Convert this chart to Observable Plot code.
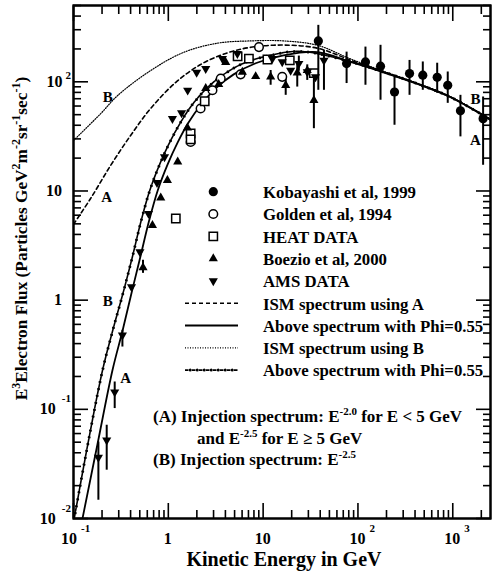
<!DOCTYPE html>
<html><head><meta charset="utf-8">
<script src="https://cdn.jsdelivr.net/npm/d3@7"></script>
<script src="https://cdn.jsdelivr.net/npm/@observablehq/plot@0.6"></script>
<style>body{margin:0;background:#fff} #chart{position:relative;width:498px;height:576px}</style>
</head><body><div id="chart"></div>
<script>
// ---------- data ----------
// Model curves (energy GeV, E^3 flux)
const ismAE = [0.1, 0.152, 0.247, 0.402, 0.653, 1.2, 2.19, 4.03, 7.4, 16.4, 37.5, 83.6, 186, 425, 946, 2500];
const ismAF = [4.95, 8.57, 17.2, 32.4, 57.2, 98.9, 144, 182, 207, 217, 203, 158, 123, 96, 72.6, 45.2];
const modAE = [0.1244, 0.179, 0.2576, 0.330, 0.411, 0.512, 0.621, 0.773, 0.986, 1.256, 1.64, 2.19, 3.16, 4.89, 8.34, 16.4, 37.5, 83.6, 186, 425, 946, 2500];
const modAF = [0.01, 0.0479, 0.228, 0.53, 1.18, 2.58, 5.17, 10.1, 17.6, 27.9, 42.6, 61, 87.1, 117, 148, 175, 187, 152, 122, 95.5, 72.3, 44.8];
const ismBE = [0.1, 0.194, 0.293, 0.653, 1.45, 3.32, 7.4, 16.4, 37.5, 83.6, 186, 425, 946, 2500];
const ismBF = [29, 51.2, 75, 127, 186, 226, 237, 237, 216, 162, 125, 97, 73, 45.6];
const modBE = [0.102, 0.1416, 0.2025, 0.2596, 0.339, 0.422, 0.512, 0.637, 0.812, 1.035, 1.35, 1.77, 2.54, 3.84, 6.23, 12.0, 24.8, 83.6, 186, 425, 946, 2500];
const modBF = [0.0101, 0.0479, 0.228, 0.53, 1.23, 2.58, 5.17, 10.1, 17.6, 27.9, 42.6, 61, 87.1, 117, 148, 175, 190, 153, 123, 96, 72.6, 45];

// Measurements
const kobE  = [38.2, 75.9, 120, 173, 243, 350, 483, 685, 885, 1205, 2089];
const kobF  = [237, 147, 152, 139, 80.7, 119, 115, 110, 93, 54.2, 46];
const kobLo = [83.6, 96.4, 93, 67.8, 40, 75.2, 83.6, 78.5, 63.5, 31.3, 17.2];
const kobHi = [329, 187, 208, 216, 111, 157, 152, 148, 123, 75.2, 72.6];

const golE = [1.72, 2.19, 2.92, 3.57, 5.79, 9.04, 15.9];
const golF = [28.1, 56.9, 83.6, 107, 117, 208, 111];

const heatE = [1.2, 1.72, 1.72, 2.42, 5.38, 7.08, 11.1, 19.1, 34.3];
const heatF = [5.6, 33.6, 29.7, 66.4, 171, 163, 160, 157, 120];

const boeE  = [0.541, 0.680, 0.832, 0.978, 1.256, 1.59, 2.48, 3.4, 4.03, 6.04, 8.34, 12.0, 17.3, 22.9, 29.2, 34.3];
const boeF  = [1.99, 4.85, 8.67, 12.5, 18.5, 37.9, 87, 95, 151, 123, 112, 111, 93, 121, 127, 67.8];
const boeLo = [1.76, null, null, null, null, null, null, null, null, null, null, 93, 75.2, 89.5, null, 37.2];
const boeHi = [2.32, null, null, null, null, null, null, null, null, null, null, 127, 111, 148, null, 111];

const amsE  = [0.183, 0.224, 0.272, 0.328, 0.409, 0.502, 0.618, 0.760, 0.912, 1.105, 1.38, 1.60, 1.99, 2.48, 3.72, 5.35, 12.5, 15.9, 19.5, 23.8, 29.2, 35.7, 43.8];
const amsF  = [0.0362, 0.0521, 0.144, 0.477, 1.32, 2.76, 6.21, 11.9, 20.5, 46, 51.8, 83.6, 122, 132, 163, 181, 163, 152, 127, 147, 123, 111, 157];
const amsLo = [0.0147, 0.0277, 0.1016, 0.372, null, null, null, null, null, null, null, null, null, null, null, null, null, null, null, 125, 103, null, 83.6];
const amsHi = [0.0502, 0.0715, 0.178, 0.530, null, null, null, null, null, null, null, null, null, null, null, null, null, null, null, 172, 143, null, 194];

// Curve labels
const curveLabelText = ["B", "A", "B", "A", "B", "A"];
const curveLabelE = [0.230, 0.224, 0.230, 0.356, 1734, 1734];
const curveLabelF = [72, 8.75, 0.977, 0.193, 69, 29.1];

// Legend
const legendSymbols = ["Kobayashi et al, 1999", "Golden et al, 1994", "HEAT DATA", "Boezio et al, 2000", "AMS DATA"];
const legendLines = ["ISM spectrum using A", "Above spectrum with Phi=0.55", "ISM spectrum using B", "Above spectrum with Phi=0.55"];

// Axis ticks
const xMajor = [0.1, 1, 10, 100, 1000];
const xLabelBase = ["10", "1", "10", "10", "10"];
const xLabelSup = ["-1", "", "", "2", "3"];
const yMajor = [0.01, 0.1, 1, 10, 100];
const yLabelBase = ["10", "10", "1", "10", "10"];
const yLabelSup = ["-2", "-1", "", "", "2"];

// ---------- build ----------
const FONT = "'Liberation Serif', 'Times New Roman', serif";
const X_DOMAIN = [0.1, 2500], Y_DOMAIN = [0.01, 500];
const pts = (E, F) => E.map((e, i) => ({E: e, F: F[i]}));
const bars = (E, F, lo, hi) => E.map((e, i) => ({E: e, F: F[i], lo: lo[i], hi: hi[i]})).filter(d => d.lo != null);

const ismA = pts(ismAE, ismAF), modA = pts(modAE, modAF), ismB = pts(ismBE, ismBF), modB = pts(modBE, modBF);
const kob = pts(kobE, kobF), gol = pts(golE, golF), heat = pts(heatE, heatF), boe = pts(boeE, boeF), ams = pts(amsE, amsF);
const errs = [...bars(kobE, kobF, kobLo, kobHi), ...bars(boeE, boeF, boeLo, boeHi), ...bars(amsE, amsF, amsLo, amsHi)];
const labels = curveLabelText.map((t, i) => ({t, E: curveLabelE[i], F: curveLabelF[i]}));

function minors(lo, hi) {
  const out = [];
  for (let d = lo; d < hi * 0.999; d *= 10) for (let k = 2; k <= 9; k++) if (k * d <= hi) out.push(k * d);
  return out;
}
const xMinor = minors(...X_DOMAIN), yMinor = minors(...Y_DOMAIN);

const frameDims = {width: 498, height: 576, marginLeft: 73, marginRight: 8, marginTop: 5, marginBottom: 58};
const lineOpts = {x: "E", y: "F", stroke: "black", curve: "catmull-rom", clip: true};

// main chart: data
const plot = Plot.plot({
  ...frameDims,
  x: {type: "log", domain: X_DOMAIN, axis: null},
  y: {type: "log", domain: Y_DOMAIN, axis: null},
  style: {background: "white", position: "absolute", left: "0px", top: "0px"},
  marks: [
    Plot.line(ismB, {...lineOpts, strokeWidth: 1.2, strokeDasharray: "1,1.5"}),
    Plot.line(ismA, {...lineOpts, strokeWidth: 1.6, strokeDasharray: "4,3"}),
    Plot.line(modA, {...lineOpts, strokeWidth: 1.8}),
    Plot.line(modB, {...lineOpts, strokeWidth: 1.6, strokeDasharray: "3.5,3.5"}),
    Plot.line(modB, {...lineOpts, strokeWidth: 3, strokeDasharray: "0,7", strokeDashoffset: -5.25, strokeLinecap: "round"}),
    Plot.ruleX(errs, {x: "E", y1: "lo", y2: "hi", stroke: "black", strokeWidth: 2}),
    Plot.dot(kob, {x: "E", y: "F", symbol: "circle", r: 4.6, fill: "black", stroke: "none"}),
    Plot.dot(gol, {x: "E", y: "F", symbol: "circle", r: 4.3, fill: "white", stroke: "black", strokeWidth: 1.5}),
    Plot.dot(heat, {x: "E", y: "F", symbol: "square", r: 4.7, fill: "white", stroke: "black", strokeWidth: 1.5}),
    Plot.dot(boe, {x: "E", y: "F", symbol: "triangle", r: 3.4, fill: "black", stroke: "none"}),
    Plot.dot(ams, {x: "E", y: "F", symbol: "triangle", rotate: 180, r: 3.4, fill: "black", stroke: "none"}),
    Plot.text(labels, {x: "E", y: "F", text: "t", fontSize: 15, fontWeight: "bold", fill: "black", fontFamily: FONT}),
    Plot.frame({stroke: "black", strokeWidth: 2})
  ]
});
const chart = document.getElementById("chart");
chart.appendChild(plot);

// overlay: inward ticks on all four sides, drawn by Plot's own axis marks
const ax = (fn, ticks, anchor, size) => fn({ticks, anchor, tickSize: -size, tickFormat: () => "", label: null, stroke: "black", strokeWidth: 1.6});
const overlay = Plot.plot({
  ...frameDims,
  x: {type: "log", domain: X_DOMAIN, axis: null},
  y: {type: "log", domain: Y_DOMAIN, axis: null},
  style: {background: "transparent", position: "absolute", left: "0px", top: "0px", pointerEvents: "none"},
  marks: [
    ax(Plot.axisX, xMinor, "bottom", 8), ax(Plot.axisX, xMajor, "bottom", 15),
    ax(Plot.axisX, xMinor, "top", 8), ax(Plot.axisX, xMajor, "top", 15),
    ax(Plot.axisY, yMinor, "left", 8), ax(Plot.axisY, yMajor, "left", 15),
    ax(Plot.axisY, yMinor, "right", 8), ax(Plot.axisY, yMajor, "right", 15),
    Plot.frame({stroke: "black", strokeWidth: 2})
  ]
});
chart.appendChild(overlay);

const xs = plot.scale("x"), ys = plot.scale("y");
const svg = d3.select(plot);

// tick labels
const labG = svg.append("g").attr("font-family", FONT).attr("font-weight", "bold").attr("fill", "black").attr("text-anchor", "start");
xMajor.forEach((v, i) => {
  const x = xs.apply(v);
  const sup = xLabelSup[i];
  const t = labG.append("text").attr("y", 544).attr("font-size", 16);
  if (sup) {
    t.attr("x", x - 8 - (sup.startsWith("-") ? 4 : 0)).attr("text-anchor", "start");
    t.append("tspan").text(xLabelBase[i]);
    t.append("tspan").attr("dx", 4).attr("dy", -12).attr("font-size", 11).text(sup);
  } else {
    t.attr("x", x).attr("text-anchor", "middle").text(xLabelBase[i]);
  }
});
yMajor.forEach((v, i) => {
  const y = ys.apply(v);
  const sup = yLabelSup[i];
  const t = labG.append("text").attr("y", y + 5.5).attr("font-size", 16).attr("text-anchor", "end");
  if (sup) {
    t.attr("x", 71);
    t.append("tspan").text(yLabelBase[i]);
    t.append("tspan").attr("dx", sup.startsWith("-") ? 6 : 3).attr("dy", sup.startsWith("-") ? -12 : -8).attr("font-size", 11).text(sup);
  } else {
    t.attr("x", 62).text(yLabelBase[i]);
  }
});

// axis titles
labG.append("text").attr("x", 284).attr("y", 566).attr("text-anchor", "middle").attr("font-size", 20).text("Kinetic Energy in GeV");
const ytl = labG.append("text").attr("transform", "translate(27,238.5) rotate(-90)").attr("text-anchor", "middle").attr("font-size", 17.3);
[["E",0],["3",1],["Electron Flux (Particles GeV",0],["2",1],["m",0],["-2",1],["sr",0],["-1",1],["sec",0],["-1",1],[")",0]].forEach(([s, sup], i, arr) => {
  const prevSup = i > 0 && arr[i-1][1];
  const ts = ytl.append("tspan").text(s);
  if (sup) { ts.attr("font-size", 12); if (!prevSup) ts.attr("dy", -7); }
  else if (prevSup) ts.attr("dy", 7);
});

// legend
const lg = svg.append("g").attr("font-family", FONT).attr("font-weight", "bold").attr("font-size", 16.8).attr("text-anchor", "start");
const ly0 = 191.7, lstep = 22.3, mx = 213.3, tx = 263;
const symDefs = [
  {type: d3.symbolCircle, r: 4.6, fill: "black", stroke: "none", rot: 0},
  {type: d3.symbolCircle, r: 4.3, fill: "white", stroke: "black", rot: 0},
  {type: d3.symbolSquare, r: 4.7, fill: "white", stroke: "black", rot: 0},
  {type: d3.symbolTriangle, r: 3.4, fill: "black", stroke: "none", rot: 0},
  {type: d3.symbolTriangle, r: 3.4, fill: "black", stroke: "none", rot: 180}
];
legendSymbols.forEach((name, i) => {
  const y = ly0 + i * lstep, s = symDefs[i];
  lg.append("path").attr("d", d3.symbol(s.type, Math.PI * s.r * s.r)())
    .attr("transform", `translate(${mx},${y}) rotate(${s.rot})`)
    .attr("fill", s.fill).attr("stroke", s.stroke).attr("stroke-width", 1.5);
  lg.append("text").attr("x", tx).attr("y", y + 6.3).text(name);
});
const lineStyles = [
  [{w: 1.6, dash: "4,3"}],
  [{w: 1.8, dash: null}],
  [{w: 1.2, dash: "1,1.5"}],
  [{w: 1.6, dash: "3.5,3.5"}, {w: 3, dash: "0,7", off: -5.25, cap: "round"}]
];
legendLines.forEach((name, i) => {
  const y = ly0 + (i + 5) * lstep;
  lineStyles[i].forEach(st => {
    const l = lg.append("path").attr("d", `M185,${y}H238`).attr("fill", "none")
      .attr("stroke", "black").attr("stroke-width", st.w);
    if (st.dash) l.attr("stroke-dasharray", st.dash);
    if (st.off) l.attr("stroke-dashoffset", st.off);
    if (st.cap) l.attr("stroke-linecap", st.cap);
  });
  lg.append("text").attr("x", tx).attr("y", y + 6.3).text(name);
});

// notes
const ng = svg.append("g").attr("font-family", FONT).attr("font-weight", "bold").attr("font-size", 17).attr("text-anchor", "start");
function note(x, y, parts) {
  const t = ng.append("text").attr("x", x).attr("y", y);
  let up = false;
  parts.forEach(([s, sup]) => {
    const ts = t.append("tspan").text(s);
    if (sup && !up) { ts.attr("font-size", 11).attr("dy", -7); up = true; }
    else if (!sup && up) { ts.attr("dy", 7); up = false; }
  });
}
note(153, 421.5, [["(A) Injection spectrum: E", 0], ["-2.0", 1], [" for E < 5 GeV", 0]]);
note(197, 443.5, [["and E", 0], ["-2.5", 1], [" for E \u2265 5 GeV", 0]]);
note(153, 465, [["(B) Injection spectrum: E", 0], ["-2.5", 1]]);
</script>
</body></html>
